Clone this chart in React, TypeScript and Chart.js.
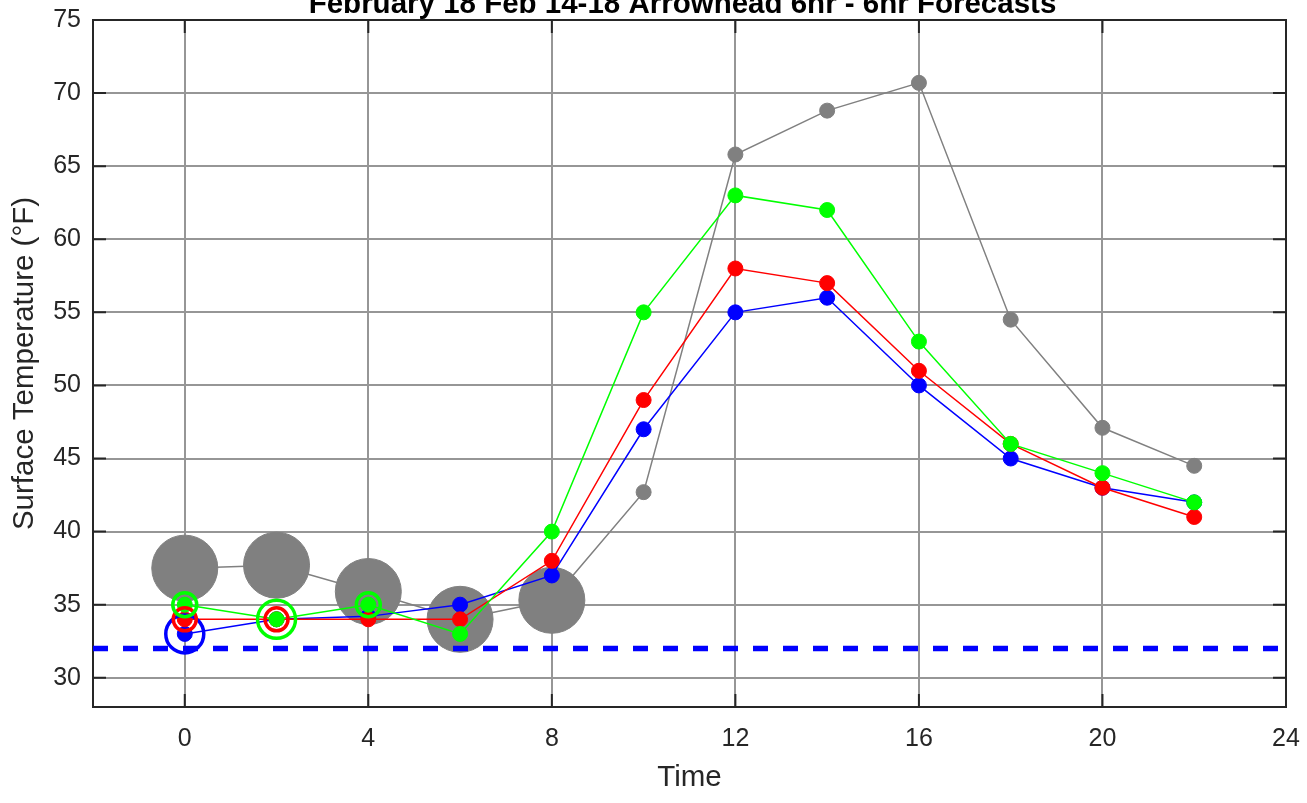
import React, { useEffect, useRef } from "react";
import { Chart, registerables } from "chart.js";

Chart.register(...registerables);

// ---- data ----
const chartTitle = "February 18 Feb 14-18 Arrowhead 6hr - 6hr Forecasts";
const xAxisTitle = "Time";
const yAxisTitle = "Surface Temperature (°F)";

const hours = [0, 2, 4, 6, 8, 10, 12, 14, 16, 18, 20, 22];
const greyValues = [37.5, 37.7, 35.9, 34.0, 35.3, 42.7, 65.8, 68.8, 70.7, 54.5, 47.1, 44.5];
const blueValues = [33, 34, 34.2, 35, 37, 47, 55, 56, 50, 45, 43, 42];
const redValues = [34, 34, 34, 34, 38, 49, 58, 57, 51, 46, 43, 41];
const greenValues = [35, 34, 35, 33, 40, 55, 63, 62, 53, 46, 44, 42];

const blueRingHours = [0];
const blueRingValues = [33];
const redRingHours = [0, 2];
const redRingValues = [34, 34];
const greenRingHours = [0, 2, 4];
const greenRingValues = [35, 34, 35];

const freezingValue = 32;
const xRange = [-2, 24];
const yRange = [28, 75];
const xTickValues = [0, 4, 8, 12, 16, 20, 24];
const yTickValues = [30, 35, 40, 45, 50, 55, 60, 65, 70, 75];

// ---- styles ----
const FONT = '"Liberation Sans", Arial, Helvetica, sans-serif';
const AXIS_COLOR = "#262626";
const GRID_COLOR = "#969696";
const GREY = "#808080";
const BLUE = "#0000ff";
const RED = "#ff0000";
const GREEN = "#00ff00";
const DOT_R = 7.5;
const BIG_GREY_R = 33;
const greyRadii = [BIG_GREY_R, BIG_GREY_R, BIG_GREY_R, BIG_GREY_R, BIG_GREY_R, DOT_R, DOT_R, DOT_R, DOT_R, DOT_R, DOT_R, DOT_R];
const blueRingRadii = [19];
const redRingRadii = [11.5, 11.5];
const greenRingRadii = [12, 19, 12];

const pts = (xs: number[], ys: number[]) => xs.map((x, i) => ({ x, y: ys[i] }));

const seriesDataset = (label: string, values: number[], color: string, radii: number | number[] = DOT_R) => ({
  label,
  data: pts(hours, values),
  borderColor: color,
  backgroundColor: color,
  borderWidth: 1.5,
  pointRadius: radii,
  pointHoverRadius: radii,
  pointBackgroundColor: color,
  pointBorderColor: color,
  pointBorderWidth: 1,
  tension: 0,
});

const ringDataset = (label: string, xs: number[], ys: number[], color: string, radii: number[]) => ({
  label,
  data: pts(xs, ys),
  showLine: false,
  borderColor: color,
  backgroundColor: "rgba(0,0,0,0)",
  pointRadius: radii,
  pointHoverRadius: radii,
  pointBackgroundColor: "rgba(0,0,0,0)",
  pointBorderColor: color,
  pointBorderWidth: 3.5,
});

const zeroPadding = (s: any) => {
  s.paddingTop = 0;
  s.paddingBottom = 0;
  s.paddingLeft = 0;
  s.paddingRight = 0;
};

const boxPlugin = {
  id: "matlabBox",
  beforeDatasetsDraw(chart: any) {
    const { ctx, chartArea: a, scales } = chart;
    ctx.save();
    ctx.strokeStyle = AXIS_COLOR;
    ctx.lineWidth = 2;
    const tl = 13;
    ctx.beginPath();
    xTickValues.forEach((v) => {
      const px = scales.x.getPixelForValue(v);
      ctx.moveTo(px, a.bottom);
      ctx.lineTo(px, a.bottom - tl);
      ctx.moveTo(px, a.top);
      ctx.lineTo(px, a.top + tl);
    });
    yTickValues.forEach((v) => {
      const py = scales.y.getPixelForValue(v);
      ctx.moveTo(a.left, py);
      ctx.lineTo(a.left + tl, py);
      ctx.moveTo(a.right, py);
      ctx.lineTo(a.right - tl, py);
    });
    ctx.stroke();
    ctx.strokeRect(a.left, a.top, a.right - a.left, a.bottom - a.top);
    ctx.restore();
  },
  afterDraw(chart: any) {
    const { ctx, chartArea: a } = chart;
    ctx.save();
    ctx.fillStyle = "#000000";
    ctx.font = `bold 29.5px ${FONT}`;
    ctx.textAlign = "center";
    ctx.textBaseline = "alphabetic";
    ctx.fillText(chartTitle, (a.left + a.right) / 2 - 7, 13);
    ctx.restore();
  },
};

export default function App() {
  const canvasRef = useRef<HTMLCanvasElement | null>(null);

  useEffect(() => {
    const canvas = canvasRef.current;
    if (!canvas) return;
    Chart.defaults.font.family = FONT;
    const chart = new Chart(canvas, {
      type: "line",
      data: {
        datasets: [
          ringDataset("green rings", greenRingHours, greenRingValues, GREEN, greenRingRadii),
          ringDataset("red rings", redRingHours, redRingValues, RED, redRingRadii),
          ringDataset("blue rings", blueRingHours, blueRingValues, BLUE, blueRingRadii),
          {
            label: "32°F",
            data: [
              { x: xRange[0], y: freezingValue },
              { x: xRange[1], y: freezingValue },
            ],
            borderColor: BLUE,
            borderWidth: 5.5,
            borderDash: [15, 15],
            borderCapStyle: "butt",
            pointRadius: 0,
            pointHoverRadius: 0,
          },
          seriesDataset("green", greenValues, GREEN),
          seriesDataset("red", redValues, RED),
          seriesDataset("blue", blueValues, BLUE),
          seriesDataset("grey", greyValues, GREY, greyRadii),
        ] as any,
      },
      options: {
        animation: false,
        responsive: false,
        events: [],
        layout: { autoPadding: false, padding: { top: 20, right: 21, bottom: 0, left: 0 } },
        plugins: {
          legend: { display: false },
          tooltip: { enabled: false },
          title: { display: false },
        },
        scales: {
          x: {
            type: "linear",
            min: xRange[0],
            max: xRange[1],
            afterBuildTicks: (s: any) => {
              s.ticks = xTickValues.map((v) => ({ value: v }));
            },
            afterFit: (s: any) => {
              s.height = 96;
              zeroPadding(s);
            },
            grid: { color: GRID_COLOR, lineWidth: 2, drawTicks: false },
            border: { display: false },
            ticks: {
              color: AXIS_COLOR,
              font: { size: 25, family: FONT },
              padding: 17,
              maxRotation: 0,
              autoSkip: false,
            },
            title: {
              display: true,
              text: xAxisTitle,
              color: AXIS_COLOR,
              font: { size: 29.5, family: FONT },
              padding: { top: 0, bottom: 7 },
            },
          },
          y: {
            type: "linear",
            min: yRange[0],
            max: yRange[1],
            afterBuildTicks: (s: any) => {
              s.ticks = yTickValues.map((v) => ({ value: v }));
            },
            afterFit: (s: any) => {
              s.width = 93;
              zeroPadding(s);
            },
            grid: { color: GRID_COLOR, lineWidth: 2, drawTicks: false },
            border: { display: false },
            ticks: {
              color: AXIS_COLOR,
              font: { size: 25, family: FONT },
              padding: 12,
              autoSkip: false,
            },
            title: {
              display: true,
              text: yAxisTitle,
              color: AXIS_COLOR,
              font: { size: 29.5, family: FONT },
              padding: { top: 7, bottom: 0 },
            },
          },
        },
      } as any,
      plugins: [boxPlugin],
    });
    return () => chart.destroy();
  }, []);

  return (
    <div style={{ position: "fixed", left: 0, top: 0, width: 1307, height: 803, background: "#ffffff" }}>
      <canvas ref={canvasRef} width={1307} height={803} style={{ width: 1307, height: 803, display: "block" }} />
    </div>
  );
}
